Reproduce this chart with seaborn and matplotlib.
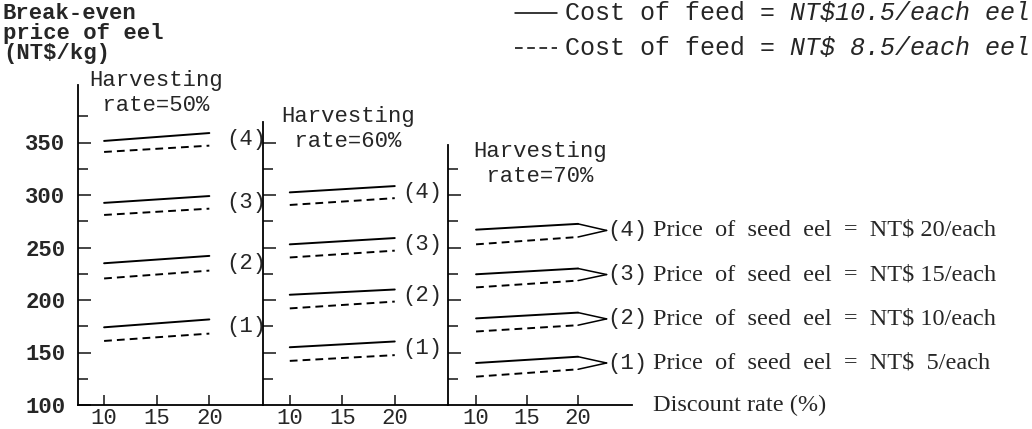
import pandas as pd
import seaborn as sns
import matplotlib.pyplot as plt
from matplotlib.lines import Line2D

# discount rate (%) at the two ends of each line
rates = [10, 20]
harvest_rates = ['50%', '60%', '70%']
seed_tags = ['(1)', '(2)', '(3)', '(4)']
seed_texts = ['Price  of  seed  eel  =  NT$  5/each', 'Price  of  seed  eel  =  NT$ 10/each',
              'Price  of  seed  eel  =  NT$ 15/each', 'Price  of  seed  eel  =  NT$ 20/each']

# break-even price of eel (NT$/kg), seed price (1)..(4), at rate 10 and 20
feed105_h50 = [[174, 181.5], [235, 242], [292.5, 299], [351.5, 359]]
feed85_h50 = [[161, 168], [220.5, 228], [281, 287], [341, 347]]
feed105_h60 = [[155, 160.5], [205, 210], [253, 259], [302.5, 308.5]]
feed85_h60 = [[142, 147.5], [192, 198.5], [240.5, 247], [290.5, 297]]
feed105_h70 = [[140, 146], [182.5, 188], [224.5, 230], [267, 272.5]]
feed85_h70 = [[127, 134], [170, 176], [212, 218.5], [253, 260]]

rows = []
for h, hi, lo in zip(harvest_rates, [feed105_h50, feed105_h60, feed105_h70],
                     [feed85_h50, feed85_h60, feed85_h70]):
    for k in range(4):
        for j, r in enumerate(rates):
            rows.append((h, r, hi[k][j], 'NT$10.5', k))
            rows.append((h, r, lo[k][j], 'NT$8.5', k))
df = pd.DataFrame(rows, columns=['harvest', 'rate', 'price', 'feed', 'seed'])

sns.set_style('ticks')
plt.rcParams['font.family'] = ['Liberation Mono', 'DejaVu Sans Mono']
mono = 16
serif = ['Liberation Serif', 'DejaVu Serif']

W, H = 1032, 429
fig = plt.figure(figsize=(W / 100, H / 100), dpi=100)


def add_px_axes(left, right):
    # y: value 100 sits at pixel 405, 1.05 px per unit, top at 405
    top = 405 - (405 - 100) * 1.05
    return fig.add_axes([left / W, 1 - 405 / H, (right - left) / W, (405 - top) / H])


panels = [
    dict(px=(78, 263), xlim=(7.52, 25.1), top=405, ticks=(125, 375), tag_x=21.6),
    dict(px=(263, 448), xlim=(7.45, 25.07), top=370, ticks=(125, 350), tag_x=20.7),
    dict(px=(448, W), xlim=(7.25, 7.25 + (W - 448) / 10.2), top=348, ticks=(125, 325), tag_x=None),
]
label_pos = [(89, 93), (281, 129), (473, 164)]

for i, (p, h) in enumerate(zip(panels, harvest_rates)):
    ax = add_px_axes(*p['px'])
    sub = df[df['harvest'] == h]
    sns.lineplot(data=sub, x='rate', y='price', style='feed', units='seed',
                 estimator=None, color='black', lw=1.4, legend=False, ax=ax,
                 dashes={'NT$10.5': '', 'NT$8.5': (4, 2.6)})
    ax.set_xlim(*p['xlim'])
    ax.set_ylim(100, 405)
    ax.set_xlabel('')
    ax.set_ylabel('')
    ax.patch.set_alpha(0)
    for s in ['top', 'right']:
        ax.spines[s].set_visible(False)
    ax.spines['left'].set_bounds(100, p['top'])
    if i == 2:
        ax.spines['bottom'].set_bounds(7.25, 25.3)
    for s in ['left', 'bottom']:
        ax.spines[s].set_linewidth(1.3)
        ax.spines[s].set_color('black')
    lo_t, hi_t = p['ticks']
    ax.set_yticks([v for v in range(100, hi_t + 1, 50) if v >= lo_t or i == 0])
    ax.set_yticks([v for v in range(125, hi_t + 1, 50)], minor=True)
    ax.set_xticks([10, 15, 20])
    ax.tick_params(axis='y', which='major', direction='in', length=9, width=1.2,
                   labelsize=mono, pad=9, labelleft=(i == 0))
    ax.tick_params(axis='y', which='minor', direction='in', length=7, width=1.2)
    ax.tick_params(axis='x', direction='in', length=7, width=1.2, labelsize=mono, pad=2)
    for t in ax.get_yticklabels():
        t.set_fontweight('bold')

    hi_end = [v[-1] for v in [feed105_h50, feed105_h60, feed105_h70][i]]
    lo_end = [v[-1] for v in [feed85_h50, feed85_h60, feed85_h70][i]]
    for k in range(4):
        mid = (hi_end[k] + lo_end[k]) / 2
        if p['tag_x'] is not None:
            ax.text(p['tag_x'], mid, seed_tags[k], fontsize=mono, va='center', ha='left')
        else:
            ax.plot([rates[-1], 22.8], [hi_end[k], mid], color='black', lw=1.1)
            ax.plot([rates[-1], 22.8], [lo_end[k], mid], color='black', lw=1.1)
            ax.text(22.85, mid, seed_tags[k], fontsize=mono, va='center', ha='left')
            ax.text(27.35, mid, seed_texts[k], fontsize=17.5, va='center', ha='left',
                    family=serif)
    if i == 2:
        ax.text(27.35, 100, 'Discount rate (%)', fontsize=17.5, va='center', ha='left',
                family=serif)

    lx, ly = label_pos[i]
    fig.text(lx / W, 1 - ly / H, 'Harvesting\n rate=' + h, fontsize=mono,
             va='center', ha='left', linespacing=1.2)

fig.text(3 / W, 1 - 3 / H, 'Break-even\nprice of eel\n(NT$/kg)', fontsize=mono,
         va='top', ha='left', linespacing=0.95, weight='bold')

# legend for feed cost
fig.add_artist(Line2D([515 / W, 557 / W], [1 - 13 / H] * 2, color='black', lw=1.1))
fig.add_artist(Line2D([515 / W, 557 / W], [1 - 48 / H] * 2, color='black', lw=1.1,
                      dashes=(5, 3)))
for y, cost in [(13, 'NT$10.5/each eel'), (48, 'NT$ 8.5/each eel')]:
    fig.text(565 / W, 1 - y / H, 'Cost of feed =', fontsize=18, va='center', ha='left')
    fig.text(790 / W, 1 - y / H, cost, fontsize=18, va='center', ha='left',
             style='italic')

fig.savefig('out.png', dpi=100)
